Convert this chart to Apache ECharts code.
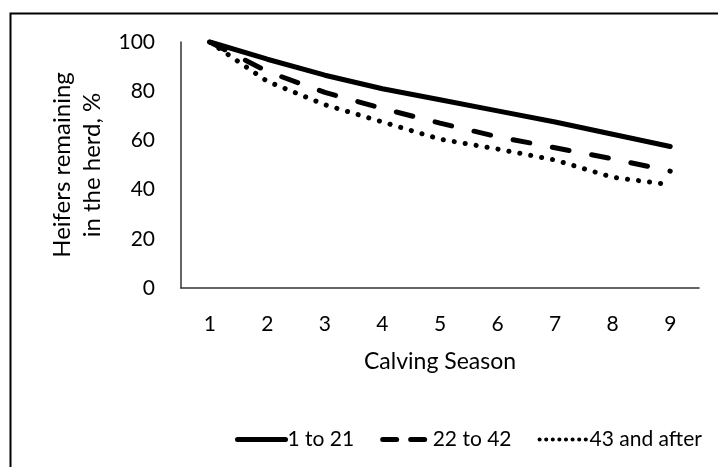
<!DOCTYPE html>
<html>
<head>
<meta charset="utf-8">
<script src="https://cdn.jsdelivr.net/npm/echarts@6/dist/echarts.min.js"></script>
<style>
html,body{margin:0;padding:0;background:#fff;}
#c{width:718px;height:467px;}
</style>
</head>
<body>
<div id="c"></div>
<script>
const categories = ['1','2','3','4','5','6','7','8','9'];
const seriesNames = ['1 to 21','22 to 42','43 and after'];
const s1 = [100, 93, 86.5, 81, 76.5, 72, 67.5, 62.5, 57.5];
const s2 = [100, 88, 79.5, 73, 67, 61.5, 57, 52.5, 47.5];
const s3 = [100, 84, 74.5, 67.5, 60.5, 56.5, 52, 45, 42];
const yTicks = {min: 0, max: 100, interval: 20};
const FONT = 'Lato';

const chart = echarts.init(document.getElementById('c'), null, {renderer: 'canvas'});
chart.setOption({
  backgroundColor: '#fff',
  animation: false,
  textStyle: {fontFamily: FONT, color: '#000'},
  graphic: [{
    type: 'rect', left: 8, top: 11,
    shape: {width: 740, height: 500},
    style: {fill: 'none', stroke: '#000', lineWidth: 2},
    silent: true
  }],
  grid: {left: 181, right: 19, top: 42, bottom: 179, containLabel: false},
  legend: {
    left: 230, top: 424, width: 488,
    itemWidth: 48, itemHeight: 14, itemGap: 26,
    itemStyle: {opacity: 0},
    textStyle: {fontFamily: FONT, fontSize: 21, color: '#000', padding: [0, 0, 0, -3]},
    data: [
      {name: seriesNames[0], lineStyle: {width: 5, type: 'solid', cap: 'round'}},
      {name: seriesNames[1], lineStyle: {width: 5, type: [14, 14], cap: 'round'}},
      {name: seriesNames[2], lineStyle: {width: 4, type: [0.1, 6.5], cap: 'round'}}
    ]
  },
  xAxis: {
    type: 'category', data: categories, boundaryGap: true,
    axisLine: {lineStyle: {color: '#333', width: 1.5}},
    axisTick: {show: false},
    axisLabel: {margin: 26, fontSize: 21, color: '#000', fontFamily: FONT},
    name: 'Calving Season', nameLocation: 'middle', nameGap: 62,
    nameTextStyle: {fontSize: 23, color: '#000', fontFamily: FONT}
  },
  yAxis: {
    type: 'value', min: yTicks.min, max: yTicks.max, interval: yTicks.interval,
    splitLine: {show: false},
    axisLine: {show: true, lineStyle: {color: '#333', width: 1.5}},
    axisTick: {show: false},
    axisLabel: {margin: 26, fontSize: 21, color: '#000', fontFamily: FONT},
    name: 'Heifers remaining\nin the herd, %', nameLocation: 'middle', nameRotate: 90, nameGap: 74,
    nameTextStyle: {fontSize: 24, color: '#000', fontFamily: FONT, lineHeight: 30}
  },
  series: [
    {name: seriesNames[0], type: 'line', data: s1, symbol: 'none', smooth: false,
     lineStyle: {color: '#000', width: 5, cap: 'round'}, itemStyle: {color: '#000'}},
    {name: seriesNames[1], type: 'line', data: s2, symbol: 'none',
     lineStyle: {color: '#000', width: 5, type: [17, 23], cap: 'round'}, itemStyle: {color: '#000'}},
    {name: seriesNames[2], type: 'line', data: s3, symbol: 'none',
     lineStyle: {color: '#000', width: 5, type: [0.1, 11], cap: 'round'}, itemStyle: {color: '#000'}}
  ]
});
</script>
</body>
</html>
